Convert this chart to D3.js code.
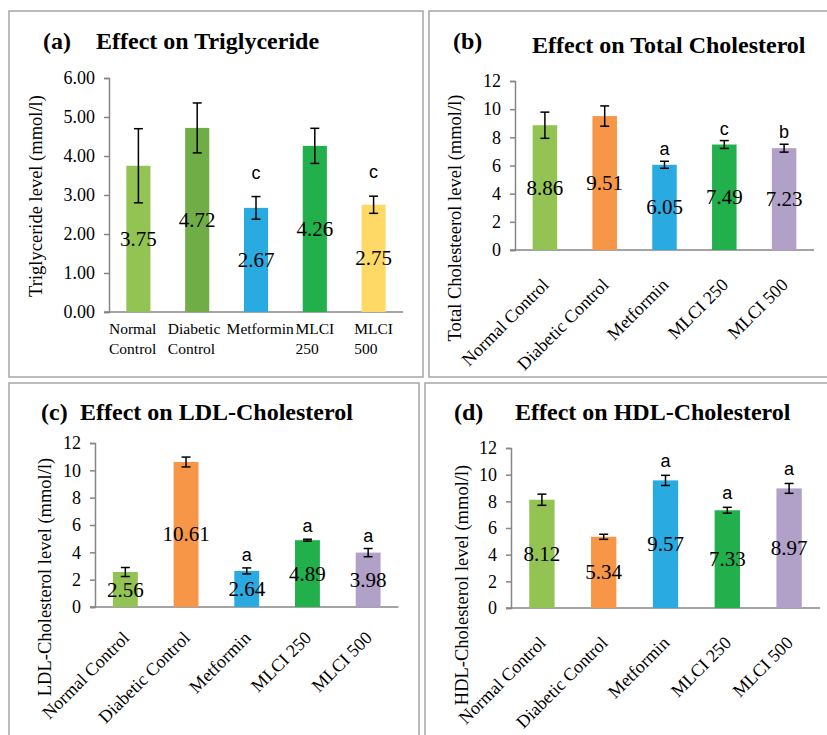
<!DOCTYPE html>
<html>
<head>
<meta charset="utf-8">
<script src="https://cdn.jsdelivr.net/npm/d3@7"></script>
<style>
body { margin: 0; background: #fff; }
svg { display: block; font-family: "Liberation Serif", "Times New Roman", serif; }
</style>
</head>
<body>
<svg id="chart" width="827" height="735"></svg>
<script>
var groups = ["Normal Control", "Diabetic Control", "Metformin", "MLCI 250", "MLCI 500"];
var colorsA = ["#92c353", "#70ad47", "#29abe2", "#21b04b", "#ffd966"];
var colorsB = ["#92c353", "#f79646", "#29abe2", "#21b04b", "#b1a0c7"];

// (a) triglyceride
var tgMean = [3.75, 4.72, 2.67, 4.26, 2.75];
var tgErr  = [0.95, 0.64, 0.29, 0.45, 0.22];
var tgSig  = ["", "", "c", "", "c"];
var tgTicks = [0, 1, 2, 3, 4, 5, 6];

// (b) total cholesterol
var tcMean = [8.86, 9.51, 6.05, 7.49, 7.23];
var tcErr  = [0.93, 0.72, 0.25, 0.28, 0.28];
var tcSig  = ["", "", "a", "c", "b"];

// (c) LDL
var ldlMean = [2.56, 10.61, 2.64, 4.89, 3.98];
var ldlErr  = [0.33, 0.36, 0.22, 0.07, 0.30];
var ldlSig  = ["", "", "a", "a", "a"];

// (d) HDL
var hdlMean = [8.12, 5.34, 9.57, 7.33, 8.97];
var hdlErr  = [0.42, 0.19, 0.38, 0.22, 0.37];
var hdlSig  = ["", "", "a", "a", "a"];

var cholTicks = [0, 2, 4, 6, 8, 10, 12];

var svg = d3.select("#chart");
var axisColor = "#868686";

var drawPanel = function(p) {
  svg.append("rect")
    .attr("x", p.frame[0]).attr("y", p.frame[1])
    .attr("width", p.frame[2]).attr("height", p.frame[3])
    .attr("fill", "none").attr("stroke", "#a6a6a6").attr("stroke-width", 1.5);

  var g = svg.append("g");

  var x = d3.scaleBand().domain(groups)
            .range([p.left, p.right])
            .paddingInner(0.59).paddingOuter(0.295);
  var y = d3.scaleLinear().domain([0, d3.max(p.ticks)])
            .range([p.bottom, p.top]);

  // titles
  g.append("text").attr("x", p.tagX).attr("y", p.tagY)
    .attr("font-size", 24).attr("font-weight", "bold").text(p.tag);
  g.append("text").attr("x", p.titleX).attr("y", p.titleY)
    .attr("font-size", 24).attr("font-weight", "bold").text(p.title);

  // y axis
  var yAxis = d3.axisLeft(y).tickValues(p.ticks).tickSize(5).tickPadding(9)
                .tickFormat(p.fmt);
  var ya = g.append("g").attr("transform", "translate(" + p.left + ",0)").call(yAxis);
  ya.select(".domain").attr("stroke", axisColor).attr("stroke-width", 1.5);
  ya.selectAll(".tick line").attr("stroke", axisColor).attr("stroke-width", 1.5);
  ya.selectAll(".tick text").attr("font-size", 18).attr("fill", "#000")
    .attr("font-family", "Liberation Serif");

  // x axis line
  g.append("line")
    .attr("x1", p.left - 5).attr("x2", p.right)
    .attr("y1", p.bottom).attr("y2", p.bottom)
    .attr("stroke", axisColor).attr("stroke-width", 1.5);

  // y label
  g.append("text")
    .attr("transform", "translate(" + p.ylabX + "," + p.ylabY + ") rotate(-90)")
    .attr("text-anchor", "middle").attr("dominant-baseline", "central")
    .attr("font-size", 18.5).text(p.ylabel);

  // bars
  g.selectAll(".bar").data(p.mean).enter().append("rect")
    .attr("x", function(d, i) { return x(groups[i]); })
    .attr("y", function(d) { return y(d); })
    .attr("width", x.bandwidth())
    .attr("height", function(d) { return p.bottom - y(d); })
    .attr("fill", function(d, i) { return p.colors[i]; });

  // error bars
  var cx = function(i) { return x(groups[i]) + x.bandwidth() / 2; };
  var eb = g.selectAll(".err").data(p.mean).enter().append("g")
            .attr("stroke", "#000").attr("stroke-width", 1.5);
  eb.append("line")
    .attr("x1", function(d, i) { return cx(i); }).attr("x2", function(d, i) { return cx(i); })
    .attr("y1", function(d, i) { return y(d - p.err[i]); })
    .attr("y2", function(d, i) { return y(d + p.err[i]); });
  eb.append("line")
    .attr("x1", function(d, i) { return cx(i) - 4.5; }).attr("x2", function(d, i) { return cx(i) + 4.5; })
    .attr("y1", function(d, i) { return y(d + p.err[i]); })
    .attr("y2", function(d, i) { return y(d + p.err[i]); });
  eb.append("line")
    .attr("x1", function(d, i) { return cx(i) - 4.5; }).attr("x2", function(d, i) { return cx(i) + 4.5; })
    .attr("y1", function(d, i) { return y(d - p.err[i]); })
    .attr("y2", function(d, i) { return y(d - p.err[i]); });

  // value labels
  g.selectAll(".val").data(p.mean).enter().append("text")
    .attr("x", function(d, i) { return cx(i); })
    .attr("y", function(d) { return y(d / 2); })
    .attr("text-anchor", "middle").attr("dominant-baseline", "central")
    .attr("font-size", 21)
    .text(function(d) { return d.toFixed(2); });

  // significance letters
  g.selectAll(".sig").data(p.sig).enter().append("text")
    .attr("x", function(d, i) { return cx(i); })
    .attr("y", function(d, i) { return y(p.mean[i] + p.err[i]) - p.sigOff; })
    .attr("text-anchor", "middle")
    .attr("font-family", "Liberation Sans, Arial, sans-serif")
    .attr("font-size", 18)
    .text(function(d) { return d; });

  // category labels
  if (p.wrap) {
    var step = x.step();
    groups.forEach(function(name, i) {
      var lines = name.split(" ");
      var t = g.append("text").attr("font-size", 15.5).attr("y", p.bottom + 22);
      lines.forEach(function(l, j) {
        t.append("tspan").attr("dy", j === 0 ? 0 : 20).text(l);
      });
      var w = d3.max(t.selectAll("tspan").nodes(), function(n) { return n.getComputedTextLength(); });
      // wide labels start at the band edge, narrow ones are centred
      var x0 = w > 0.7 * step ? cx(i) - step / 2 : cx(i) - w / 2;
      t.selectAll("tspan").attr("x", x0);
    });
  } else {
    groups.forEach(function(name, i) {
      g.append("text")
        .attr("transform", "translate(" + (cx(i) + 5) + "," + (p.bottom + p.labDy) + ") rotate(-45)")
        .attr("text-anchor", "end").attr("font-size", 18)
        .text(name);
    });
  }
};

drawPanel({
  frame: [9, 11, 414, 366], left: 109, right: 403, top: 78, bottom: 312,
  tag: "(a)", tagX: 43, tagY: 49, title: "Effect on Triglyceride", titleX: 96, titleY: 49,
  ylabel: "Triglyceride level (mmol/l)", ylabX: 36, ylabY: 196,
  ticks: tgTicks, fmt: d3.format(".2f"), mean: tgMean, err: tgErr, sig: tgSig,
  colors: colorsA, sigOff: 18, wrap: true
});

drawPanel({
  frame: [429, 11, 400, 366], left: 515, right: 814, top: 81, bottom: 250,
  tag: "(b)", tagX: 453, tagY: 49, title: "Effect on Total Cholesterol", titleX: 532, titleY: 53,
  ylabel: "Total Cholesteerol level (mmol/l)", ylabX: 455, ylabY: 218,
  ticks: cholTicks, fmt: d3.format("d"), mean: tcMean, err: tcErr, sig: tcSig,
  colors: colorsB, sigOff: 6, wrap: false, labDy: 36
});

drawPanel({
  frame: [9, 383, 410, 362], left: 95, right: 398.5, top: 443, bottom: 607,
  tag: "(c)", tagX: 41, tagY: 420, title: "Effect on LDL-Cholesterol", titleX: 80, titleY: 420,
  ylabel: "LDL-Cholesterol level (mmol/l)", ylabX: 45, ylabY: 577,
  ticks: cholTicks, fmt: d3.format("d"), mean: ldlMean, err: ldlErr, sig: ldlSig,
  colors: colorsB, sigOff: 7, wrap: false, labDy: 32
});

drawPanel({
  frame: [425, 383, 410, 362], left: 511, right: 820, top: 448, bottom: 608,
  tag: "(d)", tagX: 454, tagY: 420, title: "Effect on HDL-Cholesterol", titleX: 515, titleY: 420,
  ylabel: "HDL-Cholesterol level (mmol/l)", ylabX: 462, ylabY: 585,
  ticks: cholTicks, fmt: d3.format("d"), mean: hdlMean, err: hdlErr, sig: hdlSig,
  colors: colorsB, sigOff: 8, wrap: false, labDy: 36
});
</script>
</body>
</html>
